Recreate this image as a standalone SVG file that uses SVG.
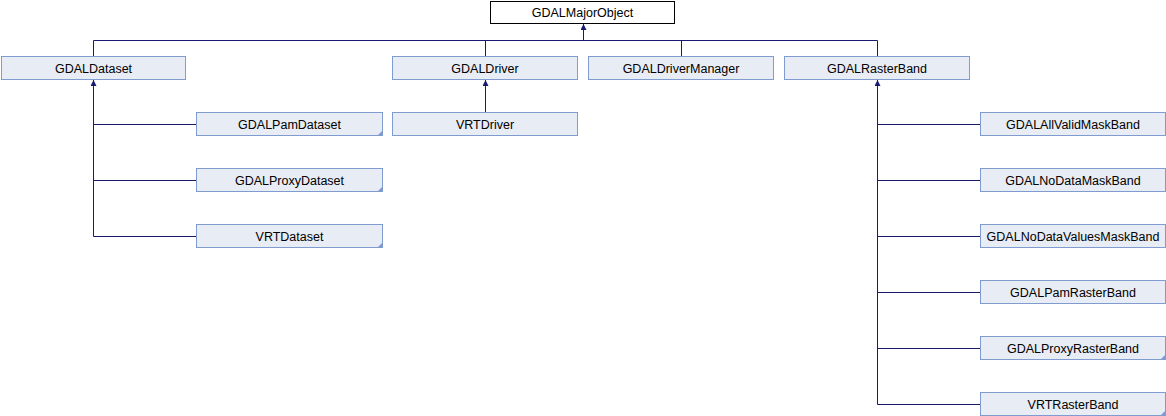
<svg xmlns="http://www.w3.org/2000/svg" width="1166" height="416" viewBox="0 0 1166 416">
<defs>
<style>
.n rect{fill:#e8ecf4;stroke:#7f9bcf;stroke-width:1}
.root rect{fill:#ffffff;stroke:#000000;stroke-width:1}
text{font-family:"Liberation Sans",Arial,sans-serif;font-size:12.5px;fill:#000;text-anchor:middle}
.e{fill:none;stroke:#191970;stroke-width:1}
.tri{fill:#7f9bcf}
</style>
<marker id="ah" viewBox="0 0 10 10" refX="10" refY="5" markerWidth="6" markerHeight="6" markerUnits="userSpaceOnUse" orient="auto-start-reverse">
<path d="M0,0 L10,5 L0,10 z" fill="#191970"/>
</marker>
</defs>
<rect width="1166" height="416" fill="#ffffff"/>
<g id="connectors">
<path class="e" d="M583.5,40.5 V24" marker-end="url(#ah)"/>
<path class="e" d="M93.5,56 V40.5 H877.5 V56"/>
<path class="e" d="M485.5,40.5 V56"/>
<path class="e" d="M681.5,40.5 V56"/>
<path class="e" d="M93.5,86 V80" marker-end="url(#ah)"/>
<path class="e" d="M93.5,86 V236.5 H196"/>
<path class="e" d="M93.5,124.5 H196"/>
<path class="e" d="M93.5,180.5 H196"/>
<path class="e" d="M485.5,112 V80" marker-end="url(#ah)"/>
<path class="e" d="M877.5,86 V80" marker-end="url(#ah)"/>
<path class="e" d="M877.5,86 V404.5 H980"/>
<path class="e" d="M877.5,124.5 H980"/>
<path class="e" d="M877.5,180.5 H980"/>
<path class="e" d="M877.5,236.5 H980"/>
<path class="e" d="M877.5,292.5 H980"/>
<path class="e" d="M877.5,348.5 H980"/>
</g>
<g id="GDALMajorObject" class="root"><rect x="490.5" y="1.5" width="184" height="22"/><text x="582.5" y="17">GDALMajorObject</text></g>
<g id="GDALDataset" class="n"><rect x="1.5" y="56.5" width="184" height="23"/><text x="93.5" y="72.5">GDALDataset</text></g>
<g id="GDALDriver" class="n"><rect x="392.5" y="56.5" width="185" height="23"/><text x="485" y="72.5">GDALDriver</text></g>
<g id="GDALDriverManager" class="n"><rect x="588.5" y="56.5" width="185" height="23"/><text x="681" y="72.5">GDALDriverManager</text></g>
<g id="GDALRasterBand" class="n"><rect x="784.5" y="56.5" width="185" height="23"/><text x="877" y="72.5">GDALRasterBand</text></g>
<g id="VRTDriver" class="n"><rect x="392.5" y="112.5" width="185" height="23"/><text x="485" y="128.5">VRTDriver</text></g>
<g id="GDALPamDataset" class="n"><rect x="196.5" y="112.5" width="186" height="23"/><path class="tri" d="M383,130 V136 H377 z"/><text x="289.5" y="128.5">GDALPamDataset</text></g>
<g id="GDALProxyDataset" class="n"><rect x="196.5" y="168.5" width="186" height="23"/><path class="tri" d="M383,186 V192 H377 z"/><text x="289.5" y="184.5">GDALProxyDataset</text></g>
<g id="VRTDataset" class="n"><rect x="196.5" y="224.5" width="186" height="23"/><path class="tri" d="M383,242 V248 H377 z"/><text x="289.5" y="240.5">VRTDataset</text></g>
<g id="GDALAllValidMaskBand" class="n"><rect x="980.5" y="112.5" width="185" height="23"/><text x="1073" y="128.5">GDALAllValidMaskBand</text></g>
<g id="GDALNoDataMaskBand" class="n"><rect x="980.5" y="168.5" width="185" height="23"/><text x="1073" y="184.5">GDALNoDataMaskBand</text></g>
<g id="GDALNoDataValuesMaskBand" class="n"><rect x="980.5" y="224.5" width="185" height="23"/><text x="1073" y="240.5">GDALNoDataValuesMaskBand</text></g>
<g id="GDALPamRasterBand" class="n"><rect x="980.5" y="280.5" width="185" height="23"/><text x="1073" y="296.5">GDALPamRasterBand</text></g>
<g id="GDALProxyRasterBand" class="n"><rect x="980.5" y="336.5" width="185" height="23"/><path class="tri" d="M1166,354 V360 H1160 z"/><text x="1073" y="352.5">GDALProxyRasterBand</text></g>
<g id="VRTRasterBand" class="n"><rect x="980.5" y="392.5" width="185" height="23"/><path class="tri" d="M1166,410 V416 H1160 z"/><text x="1073" y="408.5">VRTRasterBand</text></g>
</svg>
